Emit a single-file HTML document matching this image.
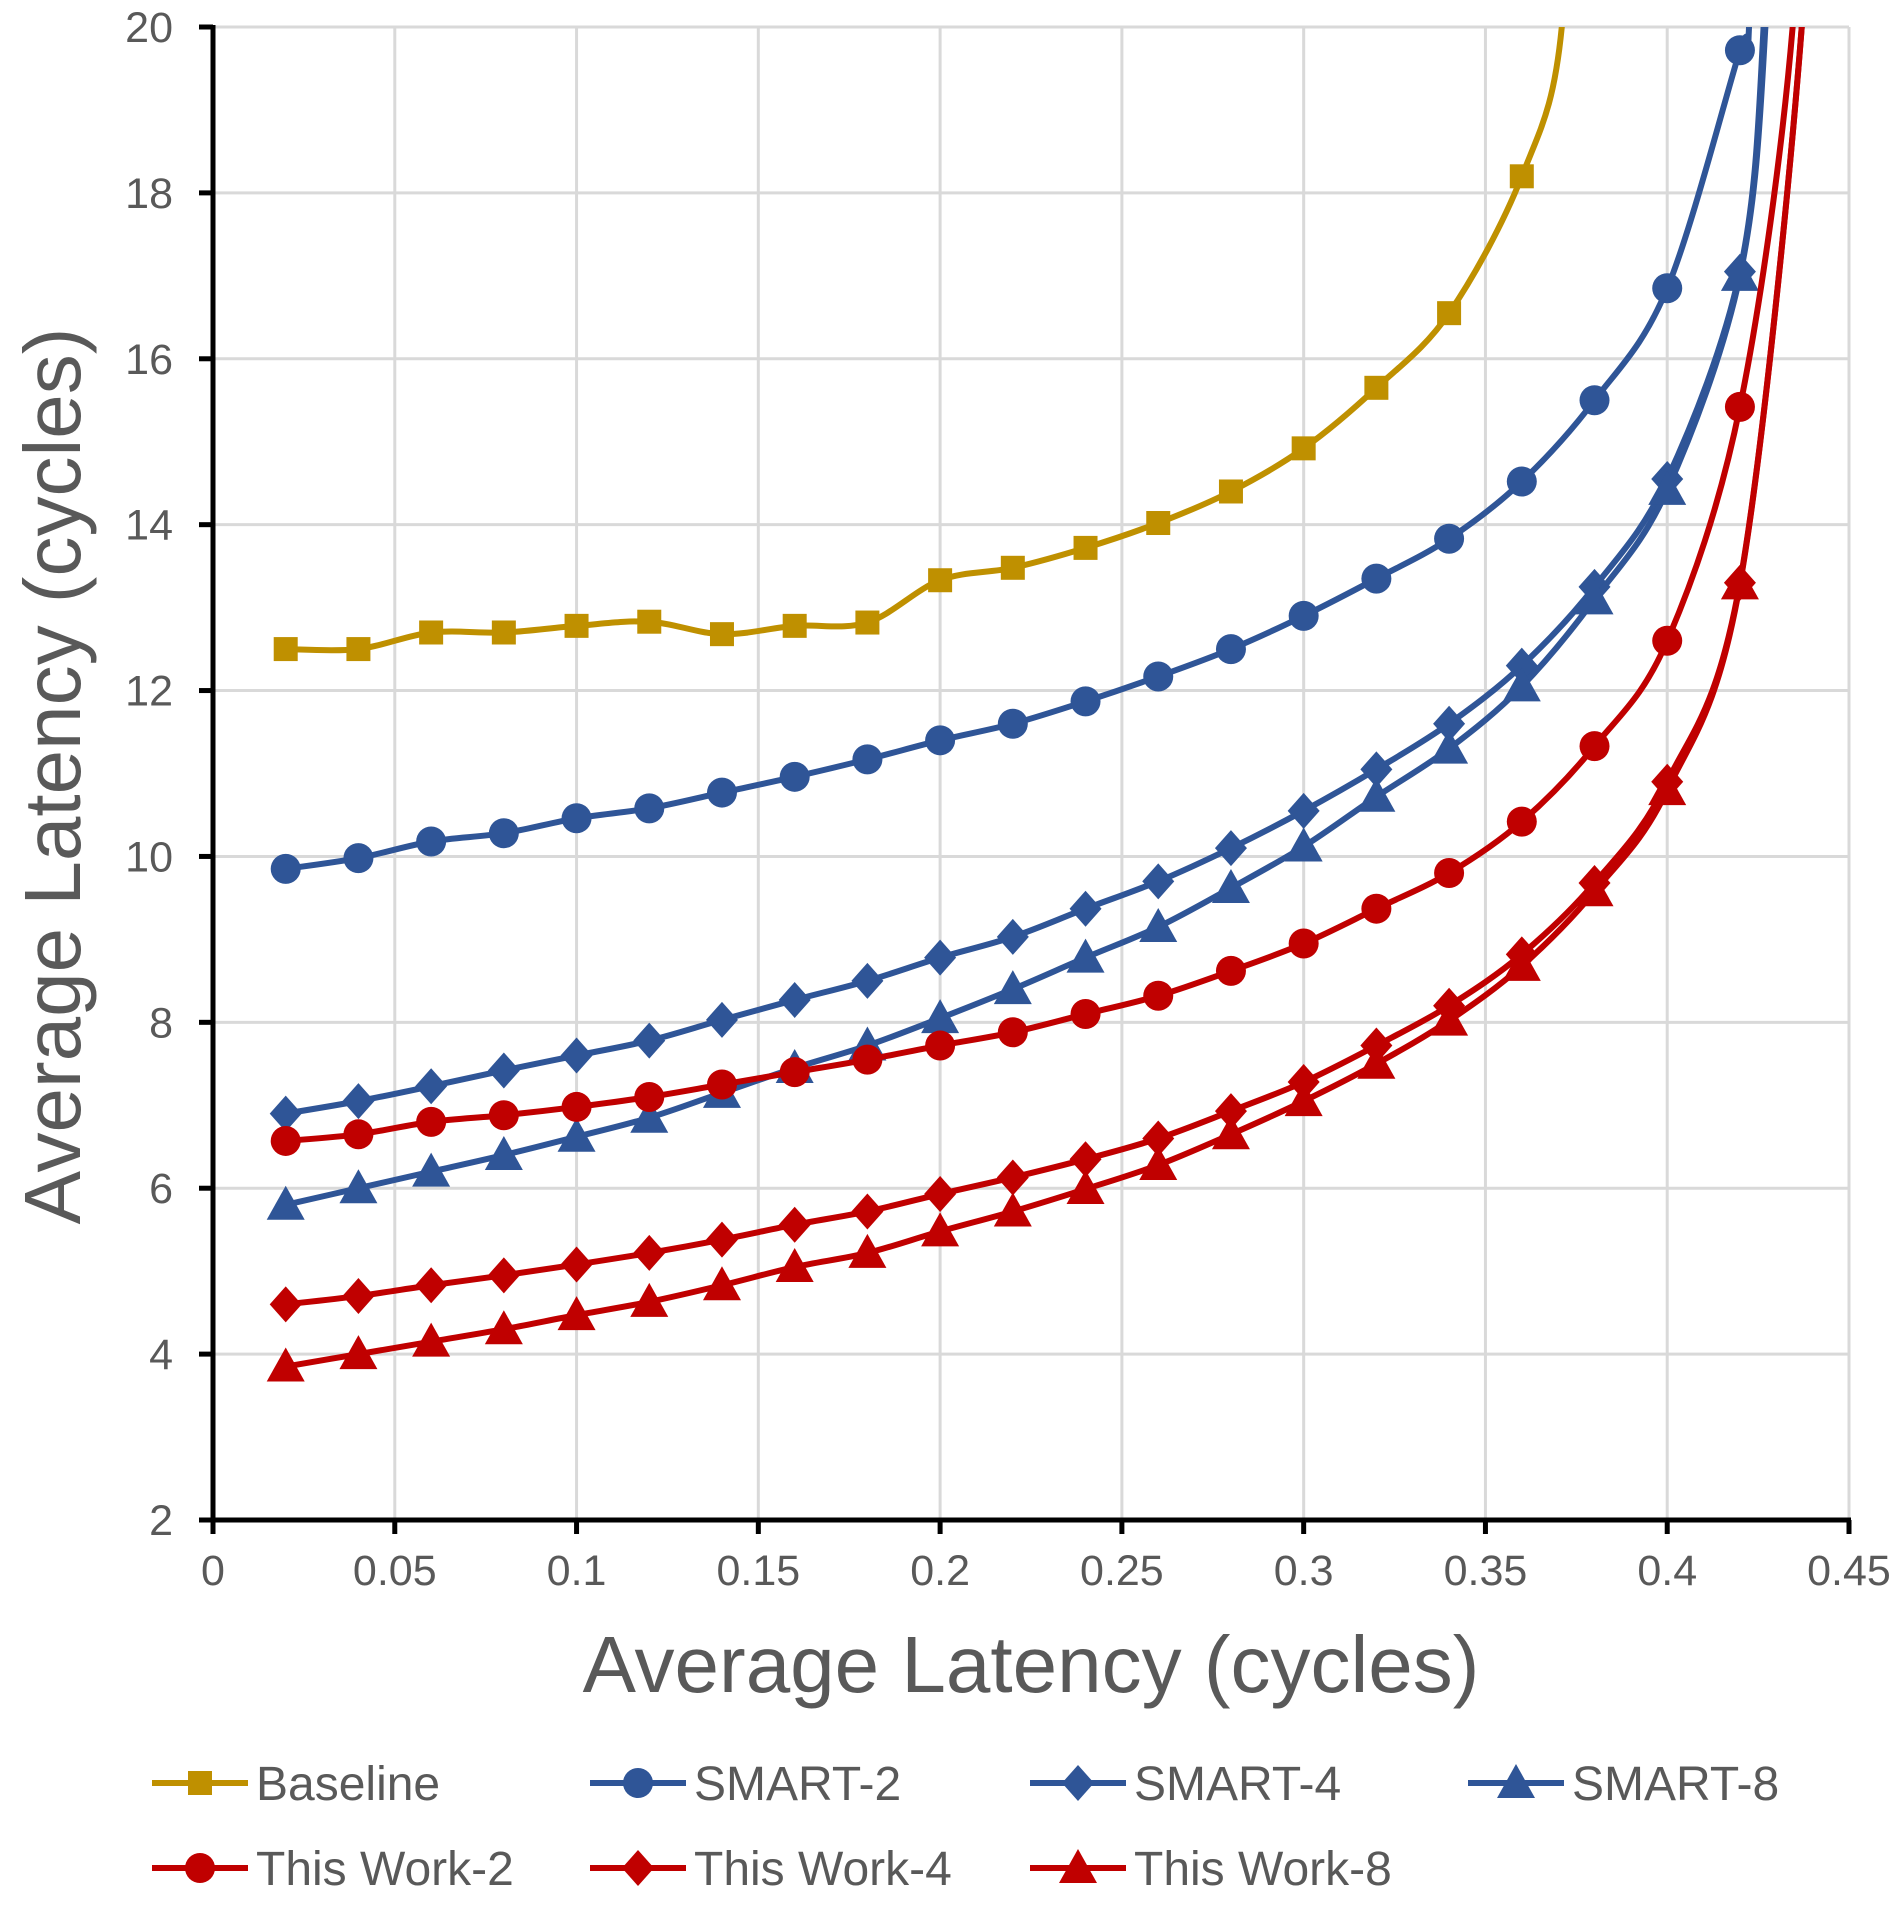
<!DOCTYPE html>
<html><head><meta charset="utf-8"><style>
html,body{margin:0;padding:0;background:#fff;}
svg text{font-family:"Liberation Sans",sans-serif;fill:#595959;}
</style></head><body>
<svg id="chart" width="1901" height="1907" viewBox="0 0 1901 1907" xmlns="http://www.w3.org/2000/svg">
<g id="grid"></g>
<g id="series"></g>
<g id="axes"></g>
<text x="0" y="0" font-size="80" text-anchor="middle" transform="translate(80,776) rotate(-90)">Average Latency (cycles)</text>
<text x="1031" y="1692" font-size="80" text-anchor="middle">Average Latency (cycles)</text>
<g id="legend"></g>
</svg>
<script>
const xs=[0.02,0.04,0.06,0.08,0.1,0.12,0.14,0.16,0.18,0.2,0.22,0.24,0.26,0.28,0.3,0.32,0.34,0.36,0.38,0.4,0.42];
const xTicks=[0,0.05,0.1,0.15,0.2,0.25,0.3,0.35,0.4,0.45];
const xTickLabels=["0","0.05","0.1","0.15","0.2","0.25","0.3","0.35","0.4","0.45"];
const yTicks=[2,4,6,8,10,12,14,16,18,20];
const names=["Baseline","SMART-2","SMART-4","SMART-8","This Work-2","This Work-4","This Work-8"];
const baseline=[12.5,12.5,12.7,12.7,12.78,12.83,12.68,12.78,12.82,13.33,13.48,13.72,14.02,14.4,14.92,15.65,16.55,18.2];
const smart2=[9.85,9.98,10.18,10.28,10.46,10.58,10.77,10.96,11.17,11.4,11.6,11.87,12.17,12.5,12.9,13.35,13.83,14.52,15.5,16.85,19.72];
const smart4=[6.9,7.05,7.23,7.42,7.6,7.78,8.03,8.27,8.5,8.78,9.03,9.37,9.7,10.1,10.55,11.05,11.6,12.3,13.25,14.55,17.05];
const smart8=[5.8,6.0,6.2,6.4,6.62,6.85,7.15,7.45,7.72,8.05,8.4,8.78,9.15,9.62,10.12,10.72,11.3,12.05,13.1,14.42,17.0];
const tw2=[6.57,6.65,6.8,6.88,6.98,7.1,7.25,7.4,7.55,7.72,7.88,8.1,8.32,8.62,8.95,9.37,9.8,10.42,11.33,12.6,15.42];
const tw4=[4.6,4.7,4.83,4.95,5.08,5.22,5.38,5.56,5.72,5.93,6.13,6.35,6.6,6.93,7.28,7.72,8.2,8.82,9.68,10.9,13.3];
const tw8=[3.85,4.0,4.15,4.3,4.47,4.63,4.83,5.05,5.22,5.48,5.72,5.99,6.28,6.65,7.05,7.5,8.02,8.68,9.58,10.8,13.28];
// x where each curve exits the top (y=20)
const tailX=[0.371,0.4225,0.4265,0.427,0.4345,0.437,0.437];
const seriesData=[baseline,smart2,smart4,smart8,tw2,tw4,tw8];
const colors=["#BF9000","#2F5597","#2F5597","#2F5597","#C00000","#C00000","#C00000"];
const shapes=["square","circle","diamond","triangle","circle","diamond","triangle"];

const X0=213,X1=1849,Y0=1520,Y1=27;
const xScale=v=>X0+(v-0)/(0.45-0)*(X1-X0);
const yScale=v=>Y0-(v-2)/(20-2)*(Y0-Y1);
const NS="http://www.w3.org/2000/svg";
function mk(tag,attrs,parent){const e=document.createElementNS(NS,tag);for(const k in attrs)e.setAttribute(k,attrs[k]);parent.appendChild(e);return e;}
const grid=document.getElementById('grid'),axes=document.getElementById('axes'),ser=document.getElementById('series'),leg=document.getElementById('legend');

yTicks.forEach((t,i)=>{
  if(i>0){const l=mk('line',{x1:X0,x2:X1,y1:yScale(t),y2:yScale(t),stroke:'#d9d9d9','stroke-width':3},grid);
  
  }
  const tk=mk('line',{x1:X0-14,x2:X0,y1:yScale(t),y2:yScale(t),stroke:'#000','stroke-width':5},axes);
  
  
  const tx=mk('text',{x:X0-40,y:yScale(t)+15,'font-size':43,'text-anchor':'end'},axes);
  tx.textContent=t;
  
  
});
xTicks.forEach((t,i)=>{
  if(i>0){const l=mk('line',{x1:xScale(t),x2:xScale(t),y1:Y1,y2:Y0,stroke:'#d9d9d9','stroke-width':3},grid);
  
  }
  const tk=mk('line',{x1:xScale(t),x2:xScale(t),y1:Y0,y2:Y0+14,stroke:'#000','stroke-width':5},axes);
  
  
  const tx=mk('text',{x:xScale(t),y:1585,'font-size':43,'text-anchor':'middle'},axes);
  tx.textContent=xTickLabels[i];
  
  
});
const ya=mk('line',{x1:X0,x2:X0,y1:Y1-2,y2:Y0+2,stroke:'#000','stroke-width':5},axes);


const xa=mk('line',{x1:X0-2,x2:X1+2,y1:Y0,y2:Y0,stroke:'#000','stroke-width':5},axes);



mk('clipPath',{id:'plotclip'},document.getElementById('chart')).appendChild((()=>{const r=document.createElementNS(NS,'rect');r.setAttribute('x',X0);r.setAttribute('y',Y1);r.setAttribute('width',X1-X0);r.setAttribute('height',Y0-Y1);return r;})());

function smoothPath(pts){
  let d='M'+pts[0][0]+','+pts[0][1];
  for(let i=0;i<pts.length-1;i++){
    const p0=pts[Math.max(0,i-1)],p1=pts[i],p2=pts[i+1],p3=pts[Math.min(pts.length-1,i+2)];
    const c1=[p1[0]+(p2[0]-p0[0])/6,p1[1]+(p2[1]-p0[1])/6];
    const c2=[p2[0]-(p3[0]-p1[0])/6,p2[1]-(p3[1]-p1[1])/6];
    d+=' C'+c1[0]+','+c1[1]+' '+c2[0]+','+c2[1]+' '+p2[0]+','+p2[1];
  }
  return d;
}
function marker(shape,cx,cy,color,parent){
  let e;
  if(shape==='square')e=mk('rect',{x:cx-12,y:cy-12,width:24,height:24,fill:color},parent);
  else if(shape==='circle')e=mk('circle',{cx:cx,cy:cy,r:15,fill:color},parent);
  else if(shape==='diamond')e=mk('polygon',{points:`${cx},${cy-18} ${cx+16},${cy} ${cx},${cy+18} ${cx-16},${cy}`,fill:color},parent);
  else e=mk('polygon',{points:`${cx},${cy-19} ${cx+19},${cy+15} ${cx-19},${cy+15}`,fill:color},parent);
  return e;
}
seriesData.forEach((vals,s)=>{
  const g=mk('g',{},ser);
  
  
  const pts=vals.map((v,i)=>[xScale(xs[i]),yScale(v)]);
  pts.push([xScale(tailX[s]),yScale(20)]);
  pts.push([xScale(tailX[s]+0.002),yScale(24)]);
  const p=mk('path',{d:smoothPath(pts),fill:'none',stroke:colors[s],'stroke-width':6,'clip-path':'url(#plotclip)'},g);
  
  
  vals.forEach((v,i)=>{
    const m=marker(shapes[s],xScale(xs[i]),yScale(v),colors[s],g);
    
    
  });
});
const legPos=[[152,1783],[590,1783],[1030,1783],[1468,1783],[152,1868],[590,1868],[1030,1868]];
names.forEach((n,s)=>{
  const g=mk('g',{},leg);
  
  
  const [x,y]=legPos[s];
  const l=mk('line',{x1:x,x2:x+96,y1:y,y2:y,stroke:colors[s],'stroke-width':6},g);
  
  
  const m=marker(shapes[s],x+48,y,colors[s],g);
  
  
  const t=mk('text',{x:x+104,y:y+17,'font-size':48},g);
  t.textContent=n;
  
  
});
</script>
</body></html>
